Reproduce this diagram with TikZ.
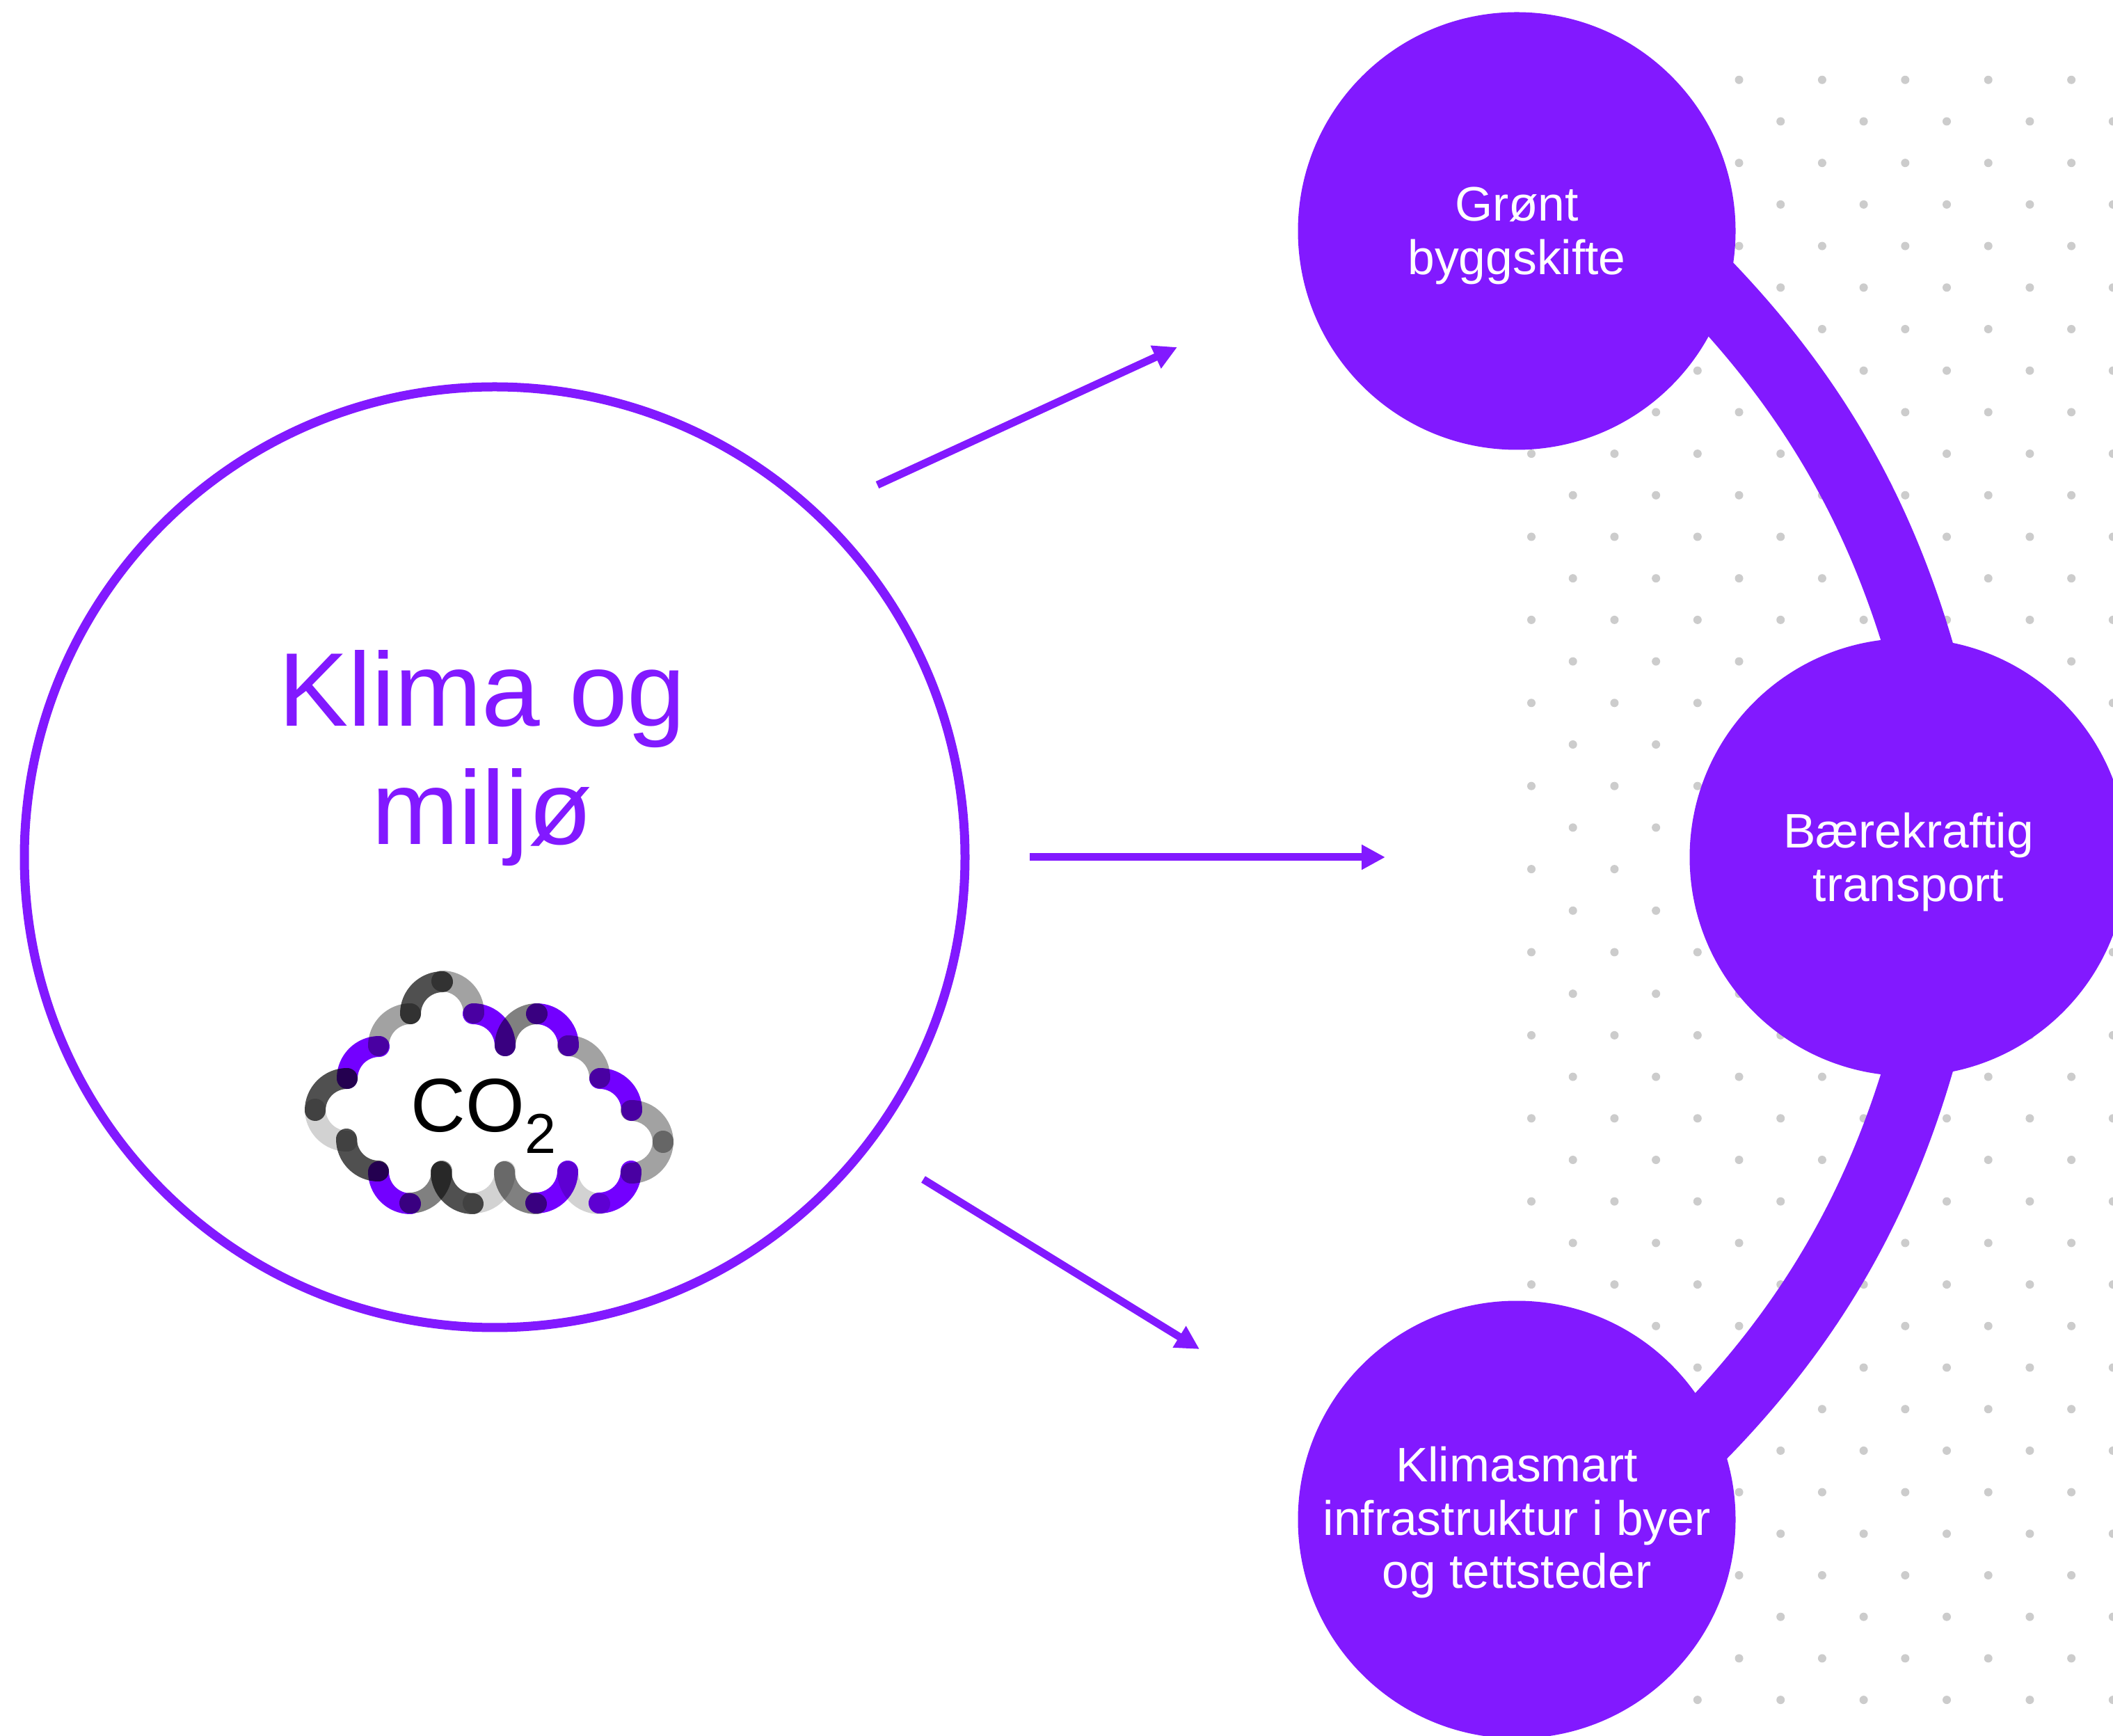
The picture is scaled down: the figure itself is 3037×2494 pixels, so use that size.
\documentclass[tikz,border=0pt]{standalone}
\usepackage{xcolor}
\usepackage{fontspec}
\setmainfont{Liberation Sans}
\usetikzlibrary{arrows.meta,positioning}
\definecolor{klimapurple}{HTML}{8219FF}
\definecolor{cloudpurple}{HTML}{7300FF}
\definecolor{clouddark}{HTML}{505050}
\definecolor{cloudgray}{HTML}{808080}
\definecolor{cloudlight}{HTML}{A2A2A2}
\definecolor{cloudpale}{HTML}{D2D2D2}
\tikzset{
  themecircle/.style={circle,fill=klimapurple,inner sep=0pt,minimum size=62.9mm},
  themetext/.style={align=center,text=white,yshift=-.7mm,font=\fontsize{19.8}{21.8}\selectfont},
  klimaarrow/.style={draw=klimapurple,line width=1.1mm,-{Triangle[length=3.4mm,width=3.4mm]}},
  themeband/.style={draw=klimapurple,line width=9.8mm,shorten <=-3.5mm,shorten >=-3.5mm},
  griddot/.style={fill=black!20},
  cloudbit/.style={line width=3mm,line cap=round,blend mode=multiply}
}

\begin{document}
\begin{tikzpicture}[x=.1mm,y=.1mm]

    \useasboundingbox (0,0) rectangle (3037,2494);
    \clip (0,0) rectangle (3037,2494);
    \fill[white] (0,0) rectangle (3037,2494);

    % Dot grid.
    \foreach \row in {0,...,39}
        \foreach \col in {0,...,14} {
            \pgfmathparse{int(mod(\row+\col,2))}
            \ifnum\pgfmathresult=1
                \fill[griddot] ({2201+59.7*\col},{2379.2-59.7*\row}) circle (6);
            \fi
        }

    % Big circle.
    \node[circle,draw=klimapurple,line width=1.3mm,inner sep=0pt,minimum size=135.2mm] (klima) at (711,1262) {};
    \node[text=klimapurple,align=center,font=\fontsize{42.8}{48.4}\selectfont] (klimatext) at (693,1404) {Klima og\\milj\o};

    % Theme circles.
    \node[themecircle,label={[themetext]center:Grønt\\byggskifte}] (bygg) at (2180,2162) {};
    \node[themecircle,label={[themetext]center:Bærekraftig\\transport}] (transport) at (2743,1262) {};
    \node[themecircle,label={[themetext,yshift=.3mm]center:Klimasmart\\infrastruktur i byer\\og tettsteder}] (infra) at (2180,310) {};

    % Bands between the circles.
    \draw[themeband] (bygg.-19) to[bend left=14,looseness=.86] (transport.88);
    \draw[themeband] (transport.-88) to[bend left=14.5,looseness=.86] (infra.26);

    % Arrows.
    \coordinate (topstart) at (1261,1797);
    \coordinate (topend) at (1692,1995);
    \coordinate (midstart) at (1480,1262);
    \coordinate (midend) at (1991,1262);
    \coordinate (lowstart) at (1327,799);
    \coordinate (lowend) at (1724,555);
    \draw[klimaarrow] (topstart) -- (topend);
    \draw[klimaarrow] (midstart) -- (midend);
    \draw[klimaarrow] (lowstart) -- (lowend);

    % Cloud.
    \foreach \x/\y/\from/\to/\col in {
        590/1037/180/90/clouddark, 635/1084/90/0/cloudlight, 680/1037/90/0/cloudpurple,
        726/991/180/90/cloudgray, 771/1037/90/0/cloudpurple, 816/991/90/0/cloudlight,
        862/944/90/0/cloudpurple, 907/898/90/0/cloudlight, 953/854/0/-90/cloudlight,
        907/811/0/-90/cloudpurple, 862/764/-90/-180/cloudpale, 816/811/0/-90/cloudpurple,
        771/764/-90/-180/cloudgray, 726/811/0/-90/cloudpale, 680/764/-90/-180/clouddark,
        635/811/0/-90/cloudgray, 590/764/-90/-180/cloudpurple, 544/811/-90/-180/clouddark,
        499/854/-90/-180/cloudpale, 453/898/180/90/clouddark, 499/944/180/90/cloudpurple,
        544/991/180/90/cloudlight}
        \draw[cloudbit,\col] (\x,\y) arc[start angle=\from,end angle=\to,radius=46];
    \node[font=\fontsize{31}{31}\selectfont,inner sep=0pt] (cotwo) at (695,890) {CO\raisebox{-.28em}{\fontsize{23}{23}\selectfont 2}};

\end{tikzpicture}
\end{document}
